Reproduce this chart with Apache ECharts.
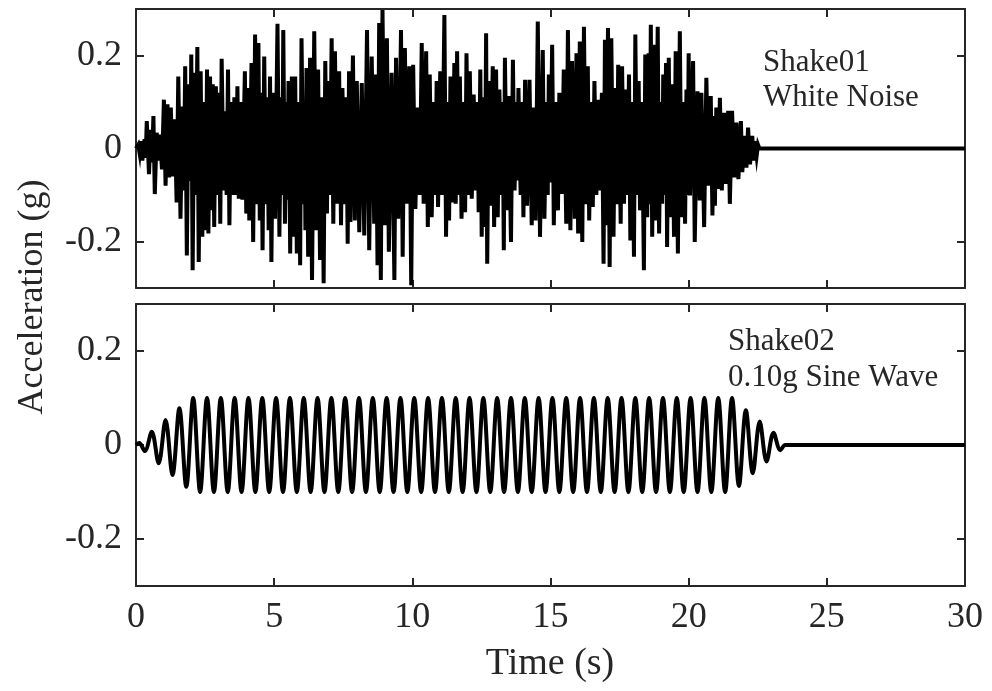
<!DOCTYPE html>
<html>
<head>
<meta charset="utf-8">
<script src="https://cdn.jsdelivr.net/npm/echarts@6/dist/echarts.min.js"></script>
<style>
html,body{margin:0;padding:0;background:#fff;}
#chart{width:992px;height:691px;}
</style>
</head>
<body>
<div id="chart"></div>
<script>
// ---- data ----
const xTickValues = [0, 5, 10, 15, 20, 25, 30];
const yTickValues = [-0.2, 0, 0.2];
const yTickLabels = ['-0.2', '0', '0.2'];
const xTitle = 'Time (s)';
const yTitle = 'Acceleration (g)';
const topNote = ['Shake01', 'White Noise'];
const bottomNote = ['Shake02', '0.10g Sine Wave'];

// Shake01 white noise: [time (s), acceleration (g)]
const noiseData = [
[0,0],[0.08,0.008],[0.13,-0.01],[0.17,0.016],[0.23,-0.026],[0.31,0.02],[0.35,-0.02],[0.39,0.059],[0.47,-0.055],[0.53,0.04],[0.58,-0.03],[0.63,0.07],[0.68,-0.098],[0.75,0.034],[0.80,-0.026],[0.87,0.03],[0.94,-0.045],
[1.01,0.105],[1.07,-0.08],[1.14,0.095],[1.20,-0.062],[1.26,0.088],[1.33,-0.06],[1.40,0.063],[1.47,-0.116],[1.53,0.155],[1.61,-0.151],[1.68,0.09],[1.73,-0.09],[1.78,0.177],[1.84,-0.23],[1.90,0.138],[1.96,-0.07],
[2.00,0.202],[2.05,-0.262],[2.11,0.163],[2.16,-0.10],[2.22,0.218],[2.27,-0.244],[2.34,0.166],[2.40,-0.19],[2.46,0.10],[2.52,-0.176],[2.57,0.17],[2.62,-0.183],[2.68,0.155],[2.73,-0.133],[2.78,0.138],[2.83,-0.169],[2.89,0.134],[2.95,-0.10],
[3.00,0.12],[3.05,-0.162],[3.10,0.193],[3.17,-0.09],[3.22,0.08],[3.28,-0.10],[3.33,0.17],[3.38,-0.165],[3.44,0.10],[3.50,-0.10],[3.56,0.11],[3.62,-0.10],[3.67,0.134],[3.72,-0.108],[3.79,0.10],[3.85,-0.11],[3.94,0.166],[3.99,-0.14],
[4.05,0.13],[4.10,-0.155],[4.18,0.184],[4.24,-0.201],[4.31,0.245],[4.37,-0.12],[4.43,0.227],[4.48,-0.155],[4.53,0.12],[4.58,-0.219],[4.64,0.198],[4.70,-0.12],[4.75,0.11],[4.80,-0.176],[4.85,0.155],[4.90,-0.244],[4.96,0.12],
[5.03,-0.151],[5.12,0.268],[5.19,-0.19],[5.25,0.11],[5.29,-0.10],[5.33,0.255],[5.39,-0.162],[5.44,0.10],[5.48,-0.11],[5.52,0.145],[5.58,-0.226],[5.64,0.155],[5.70,-0.19],[5.76,0.155],[5.82,-0.226],[5.88,0.10],[5.94,-0.251],[5.99,0.237],
[6.06,-0.12],[6.10,0.10],[6.13,-0.176],[6.17,0.173],[6.23,-0.233],[6.30,0.195],[6.37,-0.283],[6.45,0.252],[6.52,-0.176],[6.59,0.17],[6.66,-0.24],[6.73,0.11],[6.79,-0.29],[6.85,0.188],[6.91,-0.14],[6.96,0.145],
[7.02,-0.10],[7.08,0.237],[7.14,-0.162],[7.20,0.209],[7.27,-0.119],[7.35,0.166],[7.42,-0.165],[7.47,0.13],[7.55,-0.12],[7.61,0.11],[7.66,-0.205],[7.71,0.166],[7.76,-0.158],[7.85,0.20],[7.92,-0.155],[7.99,0.145],
[8.08,-0.18],[8.17,0.141],[8.26,-0.187],[8.36,0.255],[8.44,-0.219],[8.53,0.198],[8.62,-0.162],[8.68,0.159],[8.74,-0.251],[8.80,0.27],[8.86,-0.283],[8.92,0.298],
[9.01,-0.165],[9.08,0.237],[9.15,-0.222],[9.25,0.163],[9.35,-0.283],[9.41,0.195],[9.49,-0.151],[9.59,0.255],[9.65,-0.233],[9.73,0.216],[9.81,-0.119],[9.89,0.177],[9.96,-0.294],
[10.03,0.18],[10.11,-0.13],[10.20,0.088],[10.27,-0.10],[10.34,0.227],[10.41,-0.119],[10.50,0.209],[10.56,-0.169],[10.63,0.159],[10.70,-0.148],[10.78,0.10],[10.84,-0.10],[10.88,0.145],[10.93,-0.126],
[11.01,0.166],[11.08,-0.10],[11.16,0.287],[11.22,-0.19],[11.28,0.10],[11.33,-0.155],[11.38,0.155],[11.46,-0.116],[11.52,0.184],[11.57,-0.119],[11.62,0.209],[11.68,-0.10],[11.72,0.155],[11.78,-0.151],[11.85,0.10],[11.91,-0.137],[11.96,0.205],
[12.03,-0.10],[12.08,0.166],[12.15,-0.108],[12.22,0.116],[12.30,-0.09],[12.36,0.10],[12.40,-0.137],[12.46,0.17],[12.51,-0.19],[12.57,0.11],[12.62,-0.169],[12.67,0.248],[12.71,-0.248],[12.77,0.145],[12.82,-0.123],[12.91,0.177],[12.96,-0.169],
[13.03,0.17],[13.09,-0.148],[13.15,0.127],[13.22,-0.10],[13.27,0.10],[13.31,-0.219],[13.35,0.195],[13.43,-0.133],[13.48,0.113],[13.57,-0.201],[13.64,0.191],[13.70,-0.09],[13.76,0.10],[13.80,-0.069],[13.84,0.13],[13.92,-0.10],[13.98,0.10],
[14.02,-0.148],[14.08,0.148],[14.15,-0.123],[14.24,0.148],[14.32,-0.165],[14.39,0.088],[14.46,-0.155],[14.54,0.273],[14.62,-0.19],[14.72,0.212],[14.78,-0.151],[14.85,0.10],[14.90,-0.10],[14.94,0.159],[14.99,-0.073],
[15.06,0.223],[15.12,-0.165],[15.20,0.10],[15.27,-0.133],[15.32,0.12],[15.41,-0.098],[15.48,0.17],[15.57,-0.162],[15.63,0.255],[15.72,-0.176],[15.78,0.188],[15.88,-0.151],[15.94,0.205],
[16.00,-0.183],[16.06,0.23],[16.15,-0.201],[16.21,0.262],[16.28,-0.12],[16.35,0.177],[16.40,-0.155],[16.47,0.10],[16.53,-0.126],[16.59,0.145],[16.66,-0.10],[16.72,0.105],[16.77,-0.09],[16.86,0.12],[16.92,-0.248],[16.97,0.234],
[17.03,-0.165],[17.08,0.259],[17.14,-0.255],[17.20,0.237],[17.28,-0.19],[17.34,0.13],[17.40,-0.12],[17.45,0.18],[17.54,-0.162],[17.59,0.177],[17.66,-0.119],[17.72,0.127],[17.78,-0.10],[17.84,0.159],[17.89,-0.198],[17.96,0.10],
[18.02,-0.233],[18.07,0.245],[18.13,-0.10],[18.19,0.145],[18.24,-0.133],[18.31,0.10],[18.38,-0.262],[18.43,0.202],[18.50,-0.148],[18.55,0.205],[18.59,-0.12],[18.63,0.266],[18.68,-0.19],[18.76,0.223],[18.80,-0.155],[18.88,0.262],[18.93,-0.183],[18.99,0.10],
[19.04,-0.119],[19.08,0.159],[19.14,-0.10],[19.18,0.184],[19.22,-0.212],[19.28,0.195],[19.33,-0.148],[19.40,0.138],[19.47,-0.19],[19.53,0.209],[19.61,-0.226],[19.68,0.252],[19.74,-0.148],[19.80,0.10],[19.87,-0.162],[19.92,0.127],[19.96,-0.10],
[20.00,0.205],[20.05,-0.101],[20.16,0.188],[20.22,-0.201],[20.32,0.123],[20.40,-0.112],[20.46,0.12],[20.56,-0.169],[20.64,0.152],[20.72,-0.08],[20.80,0.113],[20.86,-0.144],[20.91,0.07],[20.95,-0.123],
[21.00,0.088],[21.06,-0.087],[21.13,0.109],[21.20,-0.09],[21.28,0.077],[21.34,-0.076],[21.43,0.081],[21.49,-0.119],[21.57,0.081],[21.65,-0.062],[21.73,0.056],[21.80,-0.066],[21.89,0.059],[21.94,-0.051],
[22.03,0.027],[22.09,-0.041],[22.15,0.045],[22.22,-0.034],[22.30,0.027],[22.36,-0.026],[22.40,0.016],[22.46,-0.016],[22.51,0.008],[22.56,0],[30,0]
];

// Shake02 sine wave: extremes (peaks and troughs) [time (s), acceleration (g)]
const sineData = [
[0,0],[0.12,0.004],[0.32,-0.013],[0.57,0.028],[0.82,-0.039],[1.07,0.053],[1.32,-0.064],[1.57,0.078],[1.82,-0.089],
[2.07,0.1],[2.32,-0.1],[2.57,0.1],[2.82,-0.1],[3.07,0.1],[3.32,-0.1],[3.57,0.1],[3.82,-0.1],[4.07,0.1],[4.32,-0.1],[4.57,0.1],[4.82,-0.1],
[5.07,0.1],[5.32,-0.1],[5.57,0.1],[5.82,-0.1],[6.07,0.1],[6.32,-0.1],[6.57,0.1],[6.82,-0.1],[7.07,0.1],[7.32,-0.1],[7.57,0.1],[7.82,-0.1],
[8.07,0.1],[8.32,-0.1],[8.57,0.1],[8.82,-0.1],[9.07,0.1],[9.32,-0.1],[9.57,0.1],[9.82,-0.1],[10.07,0.1],[10.32,-0.1],[10.57,0.1],[10.82,-0.1],
[11.07,0.1],[11.32,-0.1],[11.57,0.1],[11.82,-0.1],[12.07,0.1],[12.32,-0.1],[12.57,0.1],[12.82,-0.1],[13.07,0.1],[13.32,-0.1],[13.57,0.1],[13.82,-0.1],
[14.07,0.1],[14.32,-0.1],[14.57,0.1],[14.82,-0.1],[15.07,0.1],[15.32,-0.1],[15.57,0.1],[15.82,-0.1],[16.07,0.1],[16.32,-0.1],[16.57,0.1],[16.82,-0.1],
[17.07,0.1],[17.32,-0.1],[17.57,0.1],[17.82,-0.1],[18.07,0.1],[18.32,-0.1],[18.57,0.1],[18.82,-0.1],[19.07,0.1],[19.32,-0.1],[19.57,0.1],[19.82,-0.1],
[20.07,0.1],[20.32,-0.1],[20.57,0.1],[20.82,-0.1],[21.07,0.1],[21.32,-0.1],[21.57,0.1],[21.82,-0.087],[22.07,0.074],[22.32,-0.06],[22.57,0.05],
[22.82,-0.035],[23.07,0.026],[23.32,-0.011],[23.5,0],[30,0]
];

// ---- chart ----
const FONT = '"Liberation Serif", "Times New Roman", serif';
const TXT = '#262626';
const AX = '#262626';

function fmtY(v) {
  const i = yTickValues.findIndex(t => Math.abs(t - v) < 1e-9);
  return i >= 0 ? yTickLabels[i] : '';
}

function xAx(grid, pos, labels) {
  return {
    type: 'value', gridIndex: grid, position: pos, min: 0, max: 30, interval: 5,
    axisLine: { show: true, onZero: false, lineStyle: { color: AX, width: 2 } },
    axisTick: { show: true, inside: true, length: 8, lineStyle: { color: AX, width: 2 } },
    axisLabel: { show: labels, margin: 14, color: TXT, fontFamily: FONT, fontSize: 36,
      showMinLabel: true, showMaxLabel: true },
    splitLine: { show: false }
  };
}
function yAx(grid, pos, labels) {
  return {
    type: 'value', gridIndex: grid, position: pos, min: -0.3, max: 0.3,
    axisLine: { show: true, onZero: false, lineStyle: { color: AX, width: 2 } },
    axisTick: { show: true, inside: true, length: 8, customValues: yTickValues, lineStyle: { color: AX, width: 2 } },
    axisLabel: { show: labels, margin: 14, color: TXT, fontFamily: FONT, fontSize: 36,
      customValues: yTickValues, formatter: fmtY },
    splitLine: { show: false }
  };
}

function note(x, y, text) {
  return { type: 'text', left: x, top: y, silent: true,
    style: { text: text, fill: TXT, font: '31px ' + FONT, verticalAlign: 'top' } };
}

const chart = echarts.init(document.getElementById('chart'), null, { renderer: 'canvas' });
chart.setOption({
  animation: false,
  backgroundColor: '#ffffff',
  grid: [
    { left: 136, top: 9, width: 829, height: 279 },
    { left: 136, top: 304, width: 829, height: 282 }
  ],
  xAxis: [ xAx(0, 'bottom', false), xAx(0, 'top', false), xAx(1, 'bottom', true), xAx(1, 'top', false) ],
  yAxis: [ yAx(0, 'left', true), yAx(0, 'right', false), yAx(1, 'left', true), yAx(1, 'right', false) ],
  series: [
    { type: 'line', xAxisIndex: 0, yAxisIndex: 0, data: noiseData, showSymbol: false, symbol: 'none',
      lineStyle: { color: '#000', width: 4, join: 'miter' }, clip: true, silent: true },
    { type: 'line', xAxisIndex: 2, yAxisIndex: 2, data: sineData, showSymbol: false, symbol: 'none', smooth: 0.34,
      lineStyle: { color: '#000', width: 4 }, clip: true, silent: true }
  ],
  graphic: [
    { type: 'text', x: 33, y: 297, rotation: Math.PI / 2, silent: true,
      style: { text: yTitle, fill: TXT, font: '36px ' + FONT, align: 'center', verticalAlign: 'middle' } },
    { type: 'text', x: 550, y: 664, silent: true,
      style: { text: xTitle, fill: TXT, font: '38px ' + FONT, align: 'center', verticalAlign: 'middle' } },
    note(763, 47, topNote[0]),
    note(763, 82, topNote[1]),
    note(728, 326, bottomNote[0]),
    note(728, 362, bottomNote[1])
  ]
});
</script>
</body>
</html>
